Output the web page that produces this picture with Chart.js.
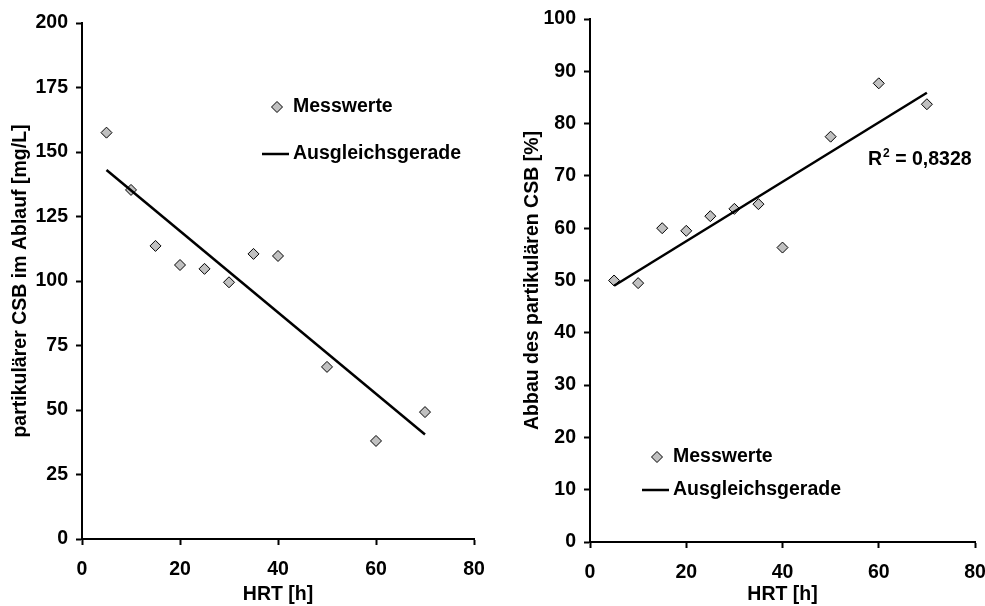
<!DOCTYPE html>
<html>
<head>
<meta charset="utf-8">
<script src="https://cdn.jsdelivr.net/npm/chart.js@4.4.1/dist/chart.umd.min.js"></script>
<style>
  body { margin: 0; background: #fff; }
  #wrap { position: relative; width: 985px; height: 606px; }
  canvas { position: absolute; top: 0; }
  #chartLeft { left: 0; }
  #chartRight { left: 495px; }
</style>
</head>
<body>
<div id="wrap">
  <canvas id="chartLeft" width="490" height="606"></canvas>
  <canvas id="chartRight" width="490" height="606"></canvas>
</div>
<script>
// HRT [h]
const hrt = [5, 10, 15, 20, 25, 30, 35, 40, 50, 60, 70];
// partikulärer CSB im Ablauf [mg/L]
const csbAblauf = [157.5, 135.3, 113.6, 106.2, 104.7, 99.5, 110.5, 109.7, 66.7, 38, 49.2];
// Abbau des partikulären CSB [%]
const csbAbbau = [50, 49.5, 60, 59.5, 62.3, 63.7, 64.6, 56.3, 77.5, 87.7, 83.7];
// Ausgleichsgerade, start and end
const trendHrt = [5, 70];
const trendAblauf = [143, 40.5];
const trendAbbau = [49, 85.9];
const r2Text = '0,8328';

const FONT = '"Liberation Sans", Arial, Helvetica, sans-serif';
const FS = 19.5;

Chart.defaults.font.family = FONT;
Chart.defaults.font.size = FS;
Chart.defaults.font.weight = 'bold';
Chart.defaults.color = '#000';

function toXY(xs, ys) {
  return xs.map((x, i) => ({ x: x, y: ys[i] }));
}

function diamond(ctx, x, y, r) {
  ctx.beginPath();
  ctx.moveTo(x - r, y);
  ctx.lineTo(x, y - r);
  ctx.lineTo(x + r, y);
  ctx.lineTo(x, y + r);
  ctx.closePath();
  ctx.fill();
  ctx.stroke();
}

// legend sits inside the plot, so it is drawn by hand
const innerLegend = {
  id: 'innerLegend',
  afterDraw(chart, args, opts) {
    const ctx = chart.ctx;
    ctx.save();
    ctx.font = 'bold ' + FS + 'px ' + FONT;
    ctx.textBaseline = 'middle';
    chart.data.datasets.forEach((ds, i) => {
      const y = opts.y[i];
      ctx.strokeStyle = ds.borderColor;
      ctx.lineWidth = ds.borderWidth;
      if (ds.showLine) {
        ctx.beginPath();
        ctx.moveTo(opts.x - 31, y);
        ctx.lineTo(opts.x - 4, y);
        ctx.stroke();
      } else {
        ctx.fillStyle = ds.backgroundColor;
        diamond(ctx, opts.x - 16, y, ds.pointRadius);
      }
      ctx.fillStyle = '#000';
      ctx.fillText(ds.label, opts.x, y);
    });
    ctx.restore();
  }
};

const r2Label = {
  id: 'r2Label',
  afterDraw(chart, args, opts) {
    if (!opts.text) return;
    const ctx = chart.ctx;
    ctx.save();
    ctx.fillStyle = '#000';
    ctx.textBaseline = 'alphabetic';
    ctx.font = 'bold ' + FS + 'px ' + FONT;
    let x = opts.x;
    ctx.fillText('R', x, opts.y);
    x += ctx.measureText('R').width;
    ctx.font = 'bold 12px ' + FONT;
    ctx.fillText('2', x + 1, opts.y - 8);
    x += ctx.measureText('2').width + 1;
    ctx.font = 'bold ' + FS + 'px ' + FONT;
    ctx.fillText(' = ' + opts.text, x, opts.y);
    ctx.restore();
  }
};

function axisStyle() {
  return {
    grid: { drawOnChartArea: false, tickLength: 6, tickWidth: 2, tickColor: '#000' },
    border: { color: '#000', width: 2 }
  };
}

function makeChart(id, yVals, trendVals, yMax, yStep, yTitle, yWidth, xHeight, pad, legendPos, r2) {
  return new Chart(document.getElementById(id).getContext('2d'), {
    type: 'scatter',
    data: {
      datasets: [
        {
          label: 'Messwerte',
          data: toXY(hrt, yVals),
          showLine: false,
          pointStyle: 'rectRot',
          pointRadius: 5.5,
          backgroundColor: '#c0c0c0',
          borderColor: '#000',
          borderWidth: 1,
          order: 1
        },
        {
          label: 'Ausgleichsgerade',
          data: toXY(trendHrt, trendVals),
          showLine: true,
          pointRadius: 0,
          borderColor: '#000',
          borderWidth: 2.5,
          order: 0
        }
      ]
    },
    options: {
      responsive: false,
      animation: false,
      layout: { padding: pad },
      plugins: {
        legend: { display: false },
        tooltip: { enabled: false },
        innerLegend: legendPos,
        r2Label: r2 || {}
      },
      scales: {
        x: Object.assign(axisStyle(), {
          type: 'linear',
          min: 0,
          max: 80,
          ticks: { stepSize: 20, padding: 13 },
          title: { display: true, text: 'HRT [h]', padding: { top: 0, bottom: 0 } },
          afterFit(s) {
            s.height = xHeight;
            s.paddingLeft = 0;
            s.paddingRight = 0;
          }
        }),
        y: Object.assign(axisStyle(), {
          min: 0,
          max: yMax,
          ticks: { stepSize: yStep, padding: 8 },
          title: { display: true, text: yTitle, padding: { top: 4, bottom: 4 } },
          afterFit(s) {
            s.width = yWidth;
            s.paddingTop = 0;
            s.paddingBottom = 0;
          }
        })
      }
    },
    plugins: [innerLegend, r2Label]
  });
}

makeChart('chartLeft', csbAblauf, trendAblauf, 200, 25,
  'partikulärer CSB im Ablauf [mg/L]', 77, 67,
  { left: 5, top: 23, right: 16, bottom: 0 },
  { x: 293, y: [107, 154] });

makeChart('chartRight', csbAbbau, trendAbbau, 100, 10,
  'Abbau des partikulären CSB [%]', 73, 64,
  { left: 22, top: 19, right: 10, bottom: 0 },
  { x: 178, y: [457, 490] },
  { x: 373, y: 165, text: r2Text });
</script>
</body>
</html>
